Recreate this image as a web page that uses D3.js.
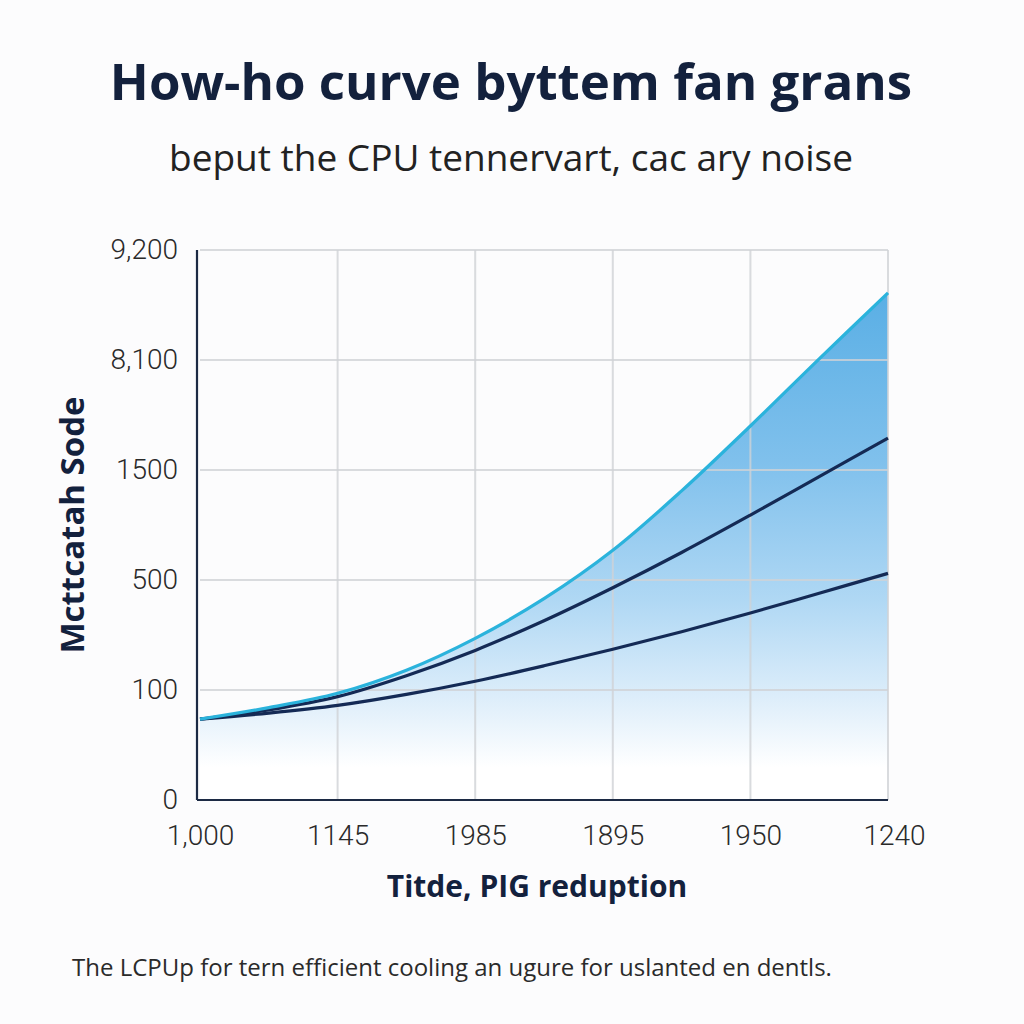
<!DOCTYPE html>
<html><head><meta charset="utf-8">
<script src="https://cdn.jsdelivr.net/npm/d3@7"></script>
<style>html,body{margin:0;padding:0;background:#fcfcfd;}svg{display:block;}</style>
</head><body>
<svg id="c" width="1024" height="1024"></svg>
<script>
const title = "How-ho curve byttem fan grans";
const subtitle = "beput the CPU tennervart, cac ary noise";
const yTitle = "Mcttcatah Sode";
const xTitle = "Titde, PIG reduption";
const footer = "The LCPUp for tern efficient cooling an ugure for uslanted en dentls.";
const xTickLabels = ["1,000", "1145", "1985", "1895", "1950", "1240"];
const yTickLabels = ["0", "100", "500", "1500", "8,100", "9,200"];
const xs = [0, 0.5, 1, 1.5, 2, 2.5, 3, 3.5, 4, 4.5, 5];
const upperSeries = [0.735, 0.84, 0.97, 1.18, 1.47, 1.83, 2.27, 2.81, 3.40, 4.01, 4.61];
const middleSeries = [0.735, 0.82, 0.94, 1.13, 1.36, 1.63, 1.93, 2.25, 2.59, 2.94, 3.29];
const lowerSeries = [0.735, 0.79, 0.86, 0.96, 1.08, 1.22, 1.37, 1.53, 1.70, 1.88, 2.06];

const svg = d3.select("#c");
const x = d3.scaleLinear().domain([0, 5]).range([200, 888]);
const y = d3.scaleLinear().domain([0, 5]).range([800, 250]);

const defs = svg.append("defs");
const grad = defs.append("linearGradient").attr("id", "fillG")
  .attr("gradientUnits", "userSpaceOnUse")
  .attr("x1", 0).attr("x2", 0).attr("y1", y(4.6)).attr("y2", y(0.3));
[[0, "#5aafe5"], [0.35, "#7fc0ec"], [0.65, "#b0d8f4"], [0.85, "#dcedfa"], [1, "#ffffff"]]
  .forEach(([o, c]) => grad.append("stop").attr("offset", o).attr("stop-color", c));

const pts = s => xs.map((v, i) => [v, s[i]]);
const area = d3.area().x(d => x(d[0])).y0(y(0)).y1(d => y(d[1])).curve(d3.curveCatmullRom);
const line = d3.line().x(d => x(d[0])).y(d => y(d[1])).curve(d3.curveCatmullRom);

svg.append("path").attr("d", area(pts(upperSeries))).attr("fill", "url(#fillG)");

// grid
const grid = svg.append("g");
grid.selectAll(".vx").data(d3.range(1, 6)).join("line")
  .attr("x1", d => x(d)).attr("x2", d => x(d)).attr("y1", y(5)).attr("y2", y(0))
  .attr("stroke", "#cfd2d6").attr("stroke-opacity", 0.8).attr("stroke-width", 2);
grid.selectAll(".hy").data(d3.range(1, 6)).join("line")
  .attr("x1", x(0)).attr("x2", x(5)).attr("y1", d => y(d)).attr("y2", d => y(d))
  .attr("stroke", "#cfd2d6").attr("stroke-opacity", 0.8).attr("stroke-width", 2);

svg.append("path").attr("d", line(pts(lowerSeries))).attr("fill", "none")
  .attr("stroke", "#142a55").attr("stroke-width", 3.2);
svg.append("path").attr("d", line(pts(middleSeries))).attr("fill", "none")
  .attr("stroke", "#142a55").attr("stroke-width", 3.2);
svg.append("path").attr("d", line(pts(upperSeries))).attr("fill", "none")
  .attr("stroke", "#2bb3dc").attr("stroke-width", 3.2);

// axes
const xAxis = d3.axisBottom(x).tickValues(d3.range(0, 6)).tickFormat(i => xTickLabels[i]).tickSize(0).tickPadding(25);
const yAxis = d3.axisLeft(y).tickValues(d3.range(0, 6)).tickFormat(i => yTickLabels[i]).tickSize(0).tickPadding(19);
const gx = svg.append("g").attr("transform", `translate(0,${y(0)})`).call(xAxis);
const gy = svg.append("g").attr("transform", `translate(${x(0) - 3},0)`).call(yAxis);
[gx, gy].forEach(g => {
  g.select(".domain").attr("stroke", "#1c2a44").attr("stroke-width", 2.2);
  g.selectAll("text").attr("font-family", "Roboto, Liberation Sans, sans-serif").attr("font-weight", 300)
    .attr("font-size", 28).attr("fill", "#2a2a2a");
});
gx.select(".domain").attr("d", `M${x(0) - 3},0H${x(5)}`);
gy.select(".domain").attr("d", `M0,${y(5)}V${y(0)}`);
gx.selectAll(".tick").filter(i => i === 5).select("text").attr("dx", 6);

// texts
svg.append("text").attr("x", 511).attr("y", 100).attr("text-anchor", "middle")
  .attr("font-family", "Open Sans, sans-serif").attr("font-weight", 700).attr("font-size", 51)
  .attr("fill", "#13213d").text(title);
svg.append("text").attr("x", 511).attr("y", 171).attr("text-anchor", "middle")
  .attr("font-family", "Open Sans, sans-serif").attr("font-size", 37)
  .attr("fill", "#222").text(subtitle);
svg.append("text").attr("transform", "translate(84,525) rotate(-90)").attr("text-anchor", "middle")
  .attr("font-family", "Open Sans, sans-serif").attr("font-weight", 700).attr("font-size", 33)
  .attr("fill", "#13213d").text(yTitle);
svg.append("text").attr("x", 537).attr("y", 897).attr("text-anchor", "middle")
  .attr("font-family", "Open Sans, sans-serif").attr("font-weight", 700).attr("font-size", 30)
  .attr("fill", "#13213d").text(xTitle);
svg.append("text").attr("x", 72).attr("y", 976)
  .attr("font-family", "Open Sans, sans-serif").attr("font-size", 24)
  .attr("fill", "#2a2a2a").text(footer);
</script>
</body></html>
